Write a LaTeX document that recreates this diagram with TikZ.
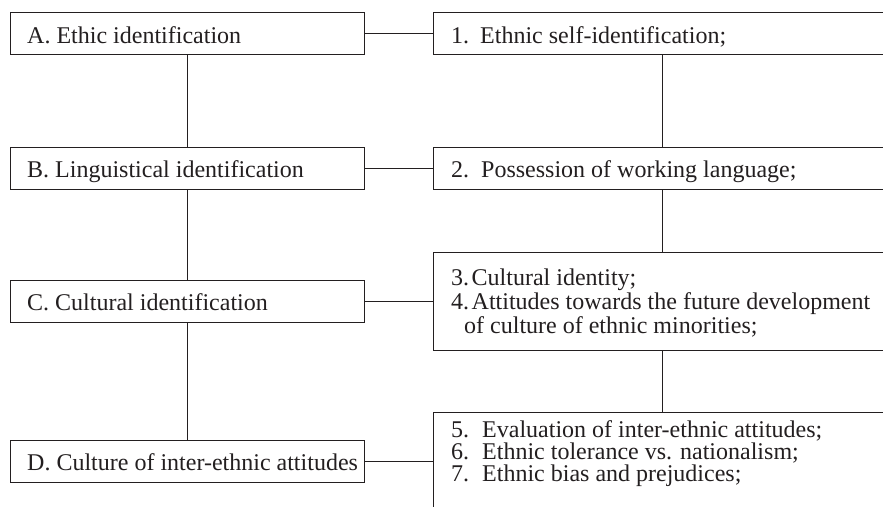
\documentclass[tikz,border=0pt]{standalone}
\usepackage{fontspec}
\setmainfont{Liberation Serif}
\usetikzlibrary{calc}
\definecolor{ink}{HTML}{231F20}
\begin{document}
\begin{tikzpicture}[x=1pt,y=-1pt,
  box/.style={draw=ink,line width=1.2pt,rectangle,inner sep=0pt,anchor=north west},
  lbox/.style={box,minimum width=354pt,minimum height=42pt},
  rbox/.style={box,minimum width=458pt},
  txt/.style={inner sep=0pt,anchor=base west,text=ink,font=\fontsize{24pt}{24pt}\selectfont},
  link/.style={draw=ink,line width=1.2pt}]
\useasboundingbox (0,0) rectangle (883,506);
\clip (0,0) rectangle (883,506);
\fill[white] (0,0) rectangle (883,506);
% left boxes
\node[lbox] (A) at (10,12) {};
\node[lbox] (B) at (10,147) {};
\node[lbox] (C) at (10,280) {};
\node[lbox] (D) at (10,440) {};
\node[txt] (tA) at (27,43) {A. Ethic identification};
\node[txt] (tB) at (27,177) {B. Linguistical identification};
\node[txt] (tC) at (27,310) {C. Cultural identification};
\node[txt] (tD) at (27,470) {D. Culture of inter-ethnic attitudes};
% right boxes
\node[rbox,minimum height=42pt] (R1) at (433,12) {};
\node[rbox,minimum height=42pt] (R2) at (433,147) {};
\node[rbox,minimum height=98pt] (R3) at (433,252) {};
\node[rbox,minimum height=120pt] (R5) at (433,412) {};
\node[txt] (t1) at (451,43) {\makebox[29pt][l]{1.}Ethnic self-identification;};
\node[txt] (t2) at (451,177) {\makebox[30pt][l]{2.}Possession of working language;};
\node[txt] (t3) at (451,285) {\makebox[20.5pt][l]{3.}Cultural identity;};
\node[txt] (t4) at (451,309) {\makebox[20.5pt][l]{4.}Attitudes towards the future development};
\node[txt] (t4b) at (464,333) {of culture of ethnic minorities;};
\node[txt] (t5) at (451,437) {\makebox[31pt][l]{5.}Evaluation of inter-ethnic attitudes;};
\node[txt] (t6) at (451,459) {\makebox[31pt][l]{6.}Ethnic tolerance vs. nationalism;};
\node[txt] (t7) at (451,481) {\makebox[31pt][l]{7.}Ethnic bias and prejudices;};
% connectors
\draw[link] (A.south) -- (B.north);
\draw[link] (B.south) -- (C.north);
\draw[link] (C.south) -- (D.north);
\draw[link] (R1.south) -- (R2.north);
\draw[link] (R2.south) -- (R3.north);
\draw[link] (R3.south) -- (R5.north);
\draw[link] (A.east) -- (R1.west);
\draw[link] (B.east) -- (R2.west);
\draw[link] (C.east) -- (R3.west);
\draw[link] (D.east) -- (D.east -| R5.west);
\end{tikzpicture}
\end{document}
